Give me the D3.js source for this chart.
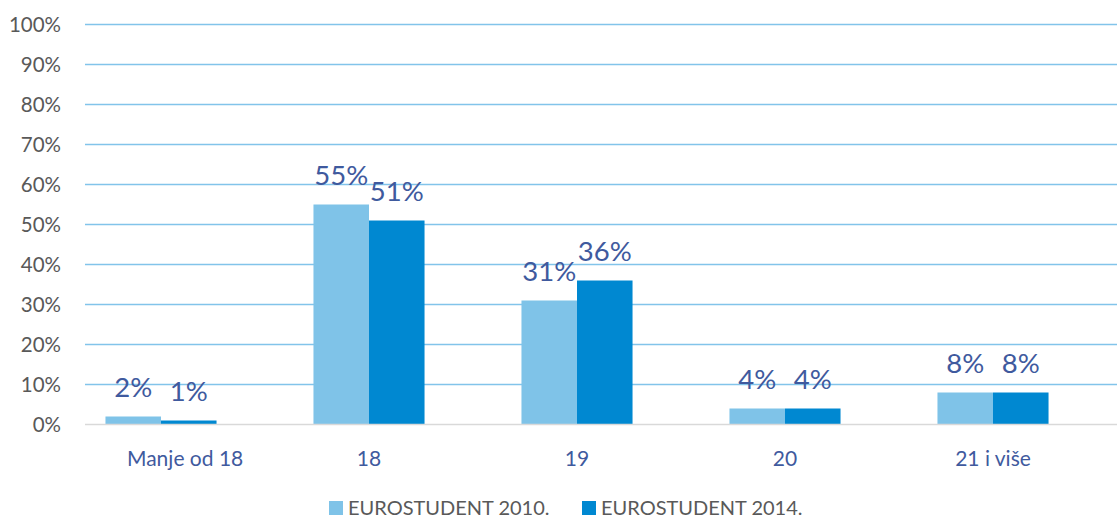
<!DOCTYPE html>
<html>
<head>
<meta charset="utf-8">
<script src="https://cdn.jsdelivr.net/npm/d3@7"></script>
<style>
  body { margin: 0; background: #fff; }
  text { font-family: Lato, "Open Sans", sans-serif; }
</style>
</head>
<body>
<svg id="chart" width="1117" height="518"></svg>
<script>
// categories and series
const categories = ['Manje od 18', '18', '19', '20', '21 i više'];
const seriesNames = ['EUROSTUDENT 2010.', 'EUROSTUDENT 2014.'];
const values2010 = [2, 55, 31, 4, 8];
const values2014 = [1, 51, 36, 4, 8];
const yTicks = [0, 10, 20, 30, 40, 50, 60, 70, 80, 90, 100];
const colors = ['#7fc3e8', '#0088d1'];

const svg = d3.select('#chart');
const plot = { left: 85, right: 1117, top: 24.5, bottom: 424.5 };

const x = d3.scaleBand().domain(categories).range([57, 1097]).paddingInner(0.466).paddingOuter(0.233);
const x1 = d3.scaleBand().domain([0, 1]).range([0, x.bandwidth()]);
const y = d3.scaleLinear().domain([0, 100]).range([plot.bottom, plot.top]);

// gridlines
svg.append('g').selectAll('line')
  .data(yTicks.filter(d => d > 0))
  .enter().append('line')
  .attr('x1', plot.left).attr('x2', plot.right)
  .attr('y1', d => y(d)).attr('y2', d => y(d))
  .style('stroke', '#82c4ea').style('stroke-width', 1.5);

// y labels
svg.append('g').selectAll('text')
  .data(yTicks)
  .enter().append('text')
  .attr('x', 61).attr('y', d => y(d) + 7.5)
  .attr('text-anchor', 'end')
  .style('font-size', '20.5px').style('fill', '#595959')
  .text(d => d + '%');

// bars
const rows = categories.map((c, i) => ({ cat: c, vals: [values2010[i], values2014[i]] }));
const groups = svg.append('g').selectAll('g')
  .data(rows).enter().append('g')
  .attr('transform', d => `translate(${x(d.cat)},0)`);

groups.selectAll('rect')
  .data(d => d.vals.map((v, j) => ({ v, j })))
  .enter().append('rect')
  .attr('x', d => x1(d.j)).attr('width', x1.bandwidth())
  .attr('y', d => y(d.v)).attr('height', d => y(0) - y(d.v))
  .style('fill', d => colors[d.j]);

groups.selectAll('text')
  .data(d => d.vals.map((v, j) => ({ v, j })))
  .enter().append('text')
  .attr('x', d => x1(d.j) + x1.bandwidth() / 2)
  .attr('y', d => y(d.v) - 20)
  .attr('text-anchor', 'middle')
  .style('font-size', '27.5px').style('fill', '#3f5a9e')
  .text(d => d.v + '%');

// x axis line
svg.append('line')
  .attr('x1', plot.left).attr('x2', plot.right)
  .attr('y1', y(0)).attr('y2', y(0))
  .style('stroke', '#d9d9d9').style('stroke-width', 1.5);

// category labels (kept inside plot left edge)
svg.append('g').selectAll('text')
  .data(categories)
  .enter().append('text')
  .attr('y', 466)
  .attr('text-anchor', 'middle')
  .style('font-size', '21px').style('fill', '#3f5a9e')
  .text(d => d)
  .attr('x', function(d) {
    const cx = x(d) + x.bandwidth() / 2;
    const w = this.getComputedTextLength();
    return Math.max(cx, 127 + w / 2);
  });

// legend
const legend = svg.append('g');
const legX = [329, 582];
seriesNames.forEach((name, i) => {
  legend.append('rect')
    .attr('x', legX[i]).attr('y', 501).attr('width', 14).attr('height', 14)
    .style('fill', colors[i]);
  legend.append('text')
    .attr('x', legX[i] + 19).attr('y', 515)
    .style('font-size', '20px').style('fill', '#595959')
    .text(name);
});
</script>
</body>
</html>
